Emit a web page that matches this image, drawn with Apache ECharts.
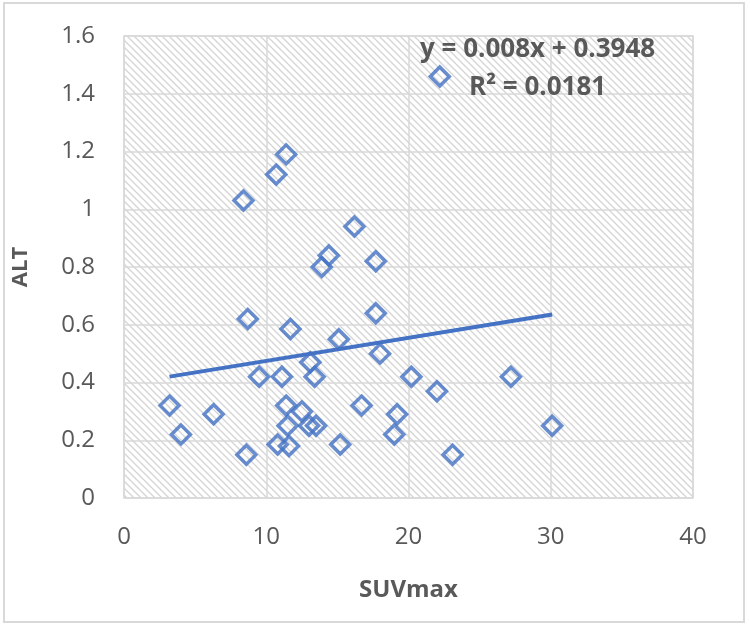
<!DOCTYPE html>
<html>
<head>
<meta charset="utf-8">
<script src="https://cdn.jsdelivr.net/npm/echarts@6/dist/echarts.min.js"></script>
<style>
  html, body { margin: 0; padding: 0; background: #fff; }
  #main { width: 750px; height: 628px; }
</style>
</head>
<body>
<div id="main"></div>
<script>
// 数据点 SUVmax / ALT
var suvmax = [3.2, 4.0, 6.3, 8.4, 8.6, 8.7, 9.5, 10.7, 10.8, 11.1, 11.4, 11.4, 11.5, 11.6, 11.7,
  12.5, 13.0, 13.1, 13.4, 13.5, 13.9, 14.4, 15.1, 15.2, 16.2, 16.7, 17.7, 17.7, 18.0,
  19.0, 19.2, 20.2, 22.0, 22.2, 23.1, 27.2, 30.1];
var alt = [0.32, 0.22, 0.29, 1.03, 0.15, 0.62, 0.42, 1.12, 0.185, 0.42, 1.19, 0.32, 0.25, 0.18, 0.585,
  0.30, 0.25, 0.47, 0.42, 0.25, 0.80, 0.84, 0.55, 0.185, 0.94, 0.32, 0.82, 0.64, 0.50,
  0.22, 0.29, 0.42, 0.37, 1.46, 0.15, 0.42, 0.25];
// 趋势线 y = 0.008x + 0.3948
var trendSlope = 0.008;
var trendIntercept = 0.3948;
var trendR2 = 0.0181;
var xTicks = [0, 10, 20, 30, 40];
var yTicks = [0, 0.2, 0.4, 0.6, 0.8, 1, 1.2, 1.4, 1.6];

var points = suvmax.map(function (x, i) { return [x, alt[i]]; });
var xMin = Math.min.apply(null, suvmax);
var xMax = Math.max.apply(null, suvmax);
var trend = [xMin, xMax].map(function (x) { return [x, trendSlope * x + trendIntercept]; });

// 斜线背景
var pat = document.createElement('canvas');
pat.width = 7; pat.height = 7;
var ctx = pat.getContext('2d');
ctx.fillStyle = '#ffffff';
ctx.fillRect(0, 0, 7, 7);
ctx.strokeStyle = '#d4d4d4';
ctx.lineWidth = 1.3;
ctx.beginPath();
ctx.moveTo(-1, -1); ctx.lineTo(8, 8);
ctx.moveTo(-8, -1); ctx.lineTo(1, 8);
ctx.moveTo(6, -1); ctx.lineTo(15, 8);
ctx.stroke();

var myChart = echarts.init(document.getElementById('main'));
var font = '"Open Sans", "Liberation Sans", sans-serif';
var option = {
  backgroundColor: '#fff',
  animation: false,
  graphic: [{
    type: 'rect',
    shape: { x: 4, y: 3, width: 740, height: 619 },
    style: { fill: 'none', stroke: '#d9d9d9', lineWidth: 2 },
    z: -1
  }, {
    type: 'text',
    left: 420, top: 37,
    style: {
      text: 'y = ' + trendSlope + 'x + ' + trendIntercept,
      font: 'bold 26px ' + font, fill: '#595959'
    },
    z: 100
  }, {
    type: 'text',
    left: 469, top: 75,
    style: {
      text: 'R² = ' + trendR2,
      font: 'bold 26px ' + font, fill: '#595959'
    },
    z: 100
  }],
  grid: {
    left: 124, right: 57, top: 36, bottom: 130,
    show: true,
    backgroundColor: { image: pat, repeat: 'repeat' },
    borderColor: '#d9d9d9', borderWidth: 1.5
  },
  xAxis: {
    type: 'value', min: 0, max: 40, interval: 10,
    name: 'SUVmax', nameLocation: 'middle', nameGap: 80,
    nameTextStyle: { fontFamily: font, fontSize: 24, fontWeight: 'bold', color: '#595959' },
    axisLine: { show: false }, axisTick: { show: false },
    axisLabel: { fontFamily: font, fontSize: 24, color: '#595959', margin: 27 },
    splitLine: { lineStyle: { color: '#d9d9d9', width: 1.5 } }
  },
  yAxis: {
    type: 'value', min: 0, max: 1.6, interval: 0.2,
    name: 'ALT', nameLocation: 'middle', nameGap: 92, nameRotate: 90,
    nameTextStyle: { fontFamily: font, fontSize: 22, fontWeight: 'bold', color: '#595959' },
    axisLine: { show: false }, axisTick: { show: false },
    axisLabel: { fontFamily: font, fontSize: 24, color: '#595959', margin: 29 },
    splitLine: { lineStyle: { color: '#d9d9d9', width: 1.5 } }
  },
  series: [{
    name: 'ALT',
    type: 'scatter',
    data: points,
    symbol: 'diamond',
    symbolSize: 19,
    itemStyle: { color: 'rgba(255,255,255,0)', borderColor: '#4472C4', borderWidth: 3.5 },
    z: 3
  }, {
    name: 'trend',
    type: 'line',
    data: trend,
    showSymbol: false,
    lineStyle: { color: '#4472C4', width: 4 },
    z: 2
  }]
};
myChart.setOption(option);
</script>
</body>
</html>
